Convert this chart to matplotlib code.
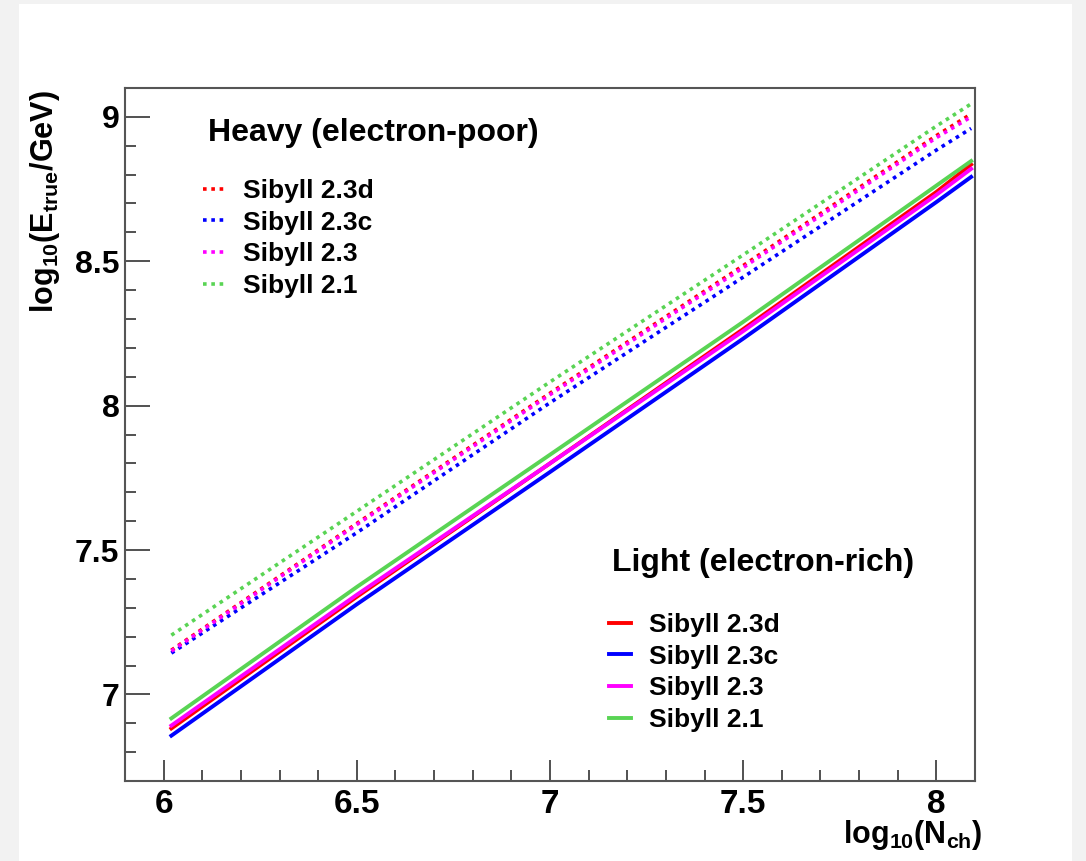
import numpy as np
import matplotlib.pyplot as plt
from matplotlib.patches import Rectangle
from matplotlib.ticker import MultipleLocator

plt.rcParams['font.family'] = ['Liberation Sans', 'DejaVu Sans']
plt.rcParams['font.weight'] = 'bold'
plt.rcParams['mathtext.fontset'] = 'custom'
plt.rcParams['mathtext.rm'] = 'Liberation Sans:bold'
plt.rcParams['mathtext.it'] = 'Liberation Sans:bold'
plt.rcParams['mathtext.bf'] = 'Liberation Sans:bold'
plt.rcParams['mathtext.default'] = 'rm'

# log10(Nch) sample points
log_nch = [6.02, 6.5, 7.0, 7.5, 8.0, 8.09]

models = ['Sibyll 2.3d', 'Sibyll 2.3c', 'Sibyll 2.3', 'Sibyll 2.1']
colors = ['#ff0000', '#0000ff', '#ff00ff', '#59d454']

# heavy (electron-poor), dotted
heavy_23d = [7.153, 7.592, 8.043, 8.485, 8.935, 9.010]
heavy_23c = [7.143, 7.560, 8.010, 8.445, 8.885, 8.960]
heavy_23 = [7.150, 7.588, 8.038, 8.478, 8.928, 9.000]
heavy_21 = [7.205, 7.634, 8.082, 8.522, 8.968, 9.045]

# light (electron-rich), solid
light_23d = [6.882, 7.338, 7.800, 8.265, 8.740, 8.835]
light_23c = [6.857, 7.312, 7.770, 8.232, 8.705, 8.792]
light_23 = [6.892, 7.345, 7.800, 8.258, 8.730, 8.820]
light_21 = [6.917, 7.372, 7.830, 8.290, 8.762, 8.847]

heavy = [heavy_23d, heavy_23c, heavy_23, heavy_21]
light = [light_23d, light_23c, light_23, light_21]

fig = plt.figure(figsize=(10.86, 8.61), dpi=100, facecolor='#f2f2f2')
fig.patches.append(Rectangle((19 / 1086, 0), (1072 - 19) / 1086, 857 / 861,
                             transform=fig.transFigure, facecolor='white',
                             edgecolor='none', zorder=-10))
ax = fig.add_axes([125 / 1086, 80 / 861, 850 / 1086, 693 / 861])

h_lines = []
for vals, c, m in zip(heavy, colors, models):
    ln, = ax.plot(log_nch, vals, color=c, lw=2.6, linestyle=(0, (1.0, 1.3)), label=m)
    h_lines.append(ln)
l_lines = []
for vals, c, m in zip(light, colors, models):
    ln, = ax.plot(log_nch, vals, color=c, lw=2.8, label=m)
    l_lines.append(ln)

ax.set_xlim(5.9, 8.1)
ax.set_ylim(6.7, 9.1)
ax.xaxis.set_minor_locator(MultipleLocator(0.1))
ax.yaxis.set_minor_locator(MultipleLocator(0.1))
ax.set_xticks([6, 6.5, 7, 7.5, 8])
ax.set_xticklabels(['6', '6.5', '7', '7.5', '8'])
ax.set_yticks([7, 7.5, 8, 8.5, 9])
ax.set_yticklabels(['7', '7.5', '8', '8.5', '9'])
ax.tick_params(which='both', direction='in', color='#333333', width=1.2)
ax.tick_params(axis='x', which='major', length=15, labelsize=24, pad=6)
ax.tick_params(axis='y', which='major', length=18, labelsize=23, pad=4)
ax.tick_params(which='minor', length=8)
for sp in ax.spines.values():
    sp.set_color('#555555')
    sp.set_linewidth(1.5)

fig.text(983 / 1086, 1 - 835 / 861, r'log$_{10}$(N$_{ch}$)', fontsize=22,
         fontweight='bold', ha='right', va='center')
fig.text(45 / 1086, 1 - 90 / 861, r'log$_{10}$(E$_{true}$/GeV)', fontsize=22,
         fontweight='bold', ha='center', va='top', rotation=90)

# legend titles
ax.text((208 - 125) / 850, (781 - 133) / 693, 'Heavy (electron-poor)', fontsize=23,
        fontweight='bold', ha='left', va='center', transform=ax.transAxes)
ax.text((612 - 125) / 850, (781 - 563) / 693, 'Light (electron-rich)', fontsize=23,
        fontweight='bold', ha='left', va='center', transform=ax.transAxes)

leg_opts = dict(loc='upper left', frameon=False, fontsize=19, handlelength=0.85,
                handletextpad=0.65, labelspacing=0.29, borderpad=0, borderaxespad=0)
leg_h = ax.legend(handles=h_lines, bbox_to_anchor=((203 - 125) / 850, (781 - 179) / 693),
                  **leg_opts)
ax.add_artist(leg_h)
ax.legend(handles=l_lines, bbox_to_anchor=((609 - 125) / 850, (781 - 613) / 693),
          **leg_opts)

fig.savefig('out.png', dpi=100, facecolor=fig.get_facecolor())
